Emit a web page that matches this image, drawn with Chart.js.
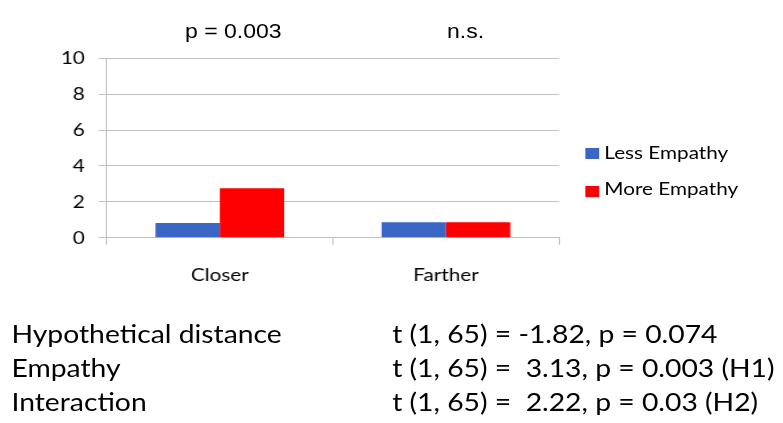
<!DOCTYPE html>
<html>
<head>
<meta charset="utf-8">
<script src="https://cdn.jsdelivr.net/npm/chart.js@4.4.1/dist/chart.umd.min.js"></script>
<style>
  html, body { margin:0; padding:0; background:#fff; width:783px; height:423px; overflow:hidden; }
  #stage { position:absolute; left:0; top:0; width:681px; height:423px; transform:scaleX(1.15); transform-origin:0 0; }
  #chartBox { position:absolute; left:0; top:0; width:681px; height:300px; }
  .ann { position:absolute; font-family:"Liberation Sans", Arial, sans-serif; font-size:20px; line-height:20px; color:#000; white-space:pre; }
  #legend { position:absolute; left:508.7px; top:0; width:172px; height:300px; font-family:Lato, sans-serif; font-size:18px; line-height:21.6px; color:#000; }
  .sw { position:absolute; left:0; width:12px; height:11px; }
  .lt { position:absolute; left:16.8px; top:0; white-space:pre; }
  #stats { position:absolute; left:0; top:0; width:681px; height:423px; font-family:Lato, sans-serif; font-size:24.6px; line-height:34px; color:#000; }
  .row { position:absolute; white-space:pre; }
</style>
</head>
<body>
<div id="stage">
  <div id="chartBox"><canvas id="c"></canvas></div>
  <div id="legend"></div>
  <div id="anns"></div>
  <div id="stats"></div>
</div>
<script>
// ---- data ----
const categories = ['Closer', 'Farther'];
const seriesNames = ['Less Empathy', 'More Empathy'];
const lessEmpathy = [0.82, 0.86];
const moreEmpathy = [2.75, 0.86];
const yTicks = [0, 2, 4, 6, 8, 10];
const annotations = ['p = 0.003', 'n.s.'];
const statLabels = ['Hypothetical distance', 'Empathy', 'Interaction'];
const statValues = ['t (1, 65) = -1.82, p = 0.074', 't (1, 65) =  3.13, p = 0.003 (H1)', 't (1, 65) =  2.22, p = 0.03 (H2)'];

// ---- styles ----
const colors = ['#3A67C5', '#FF0000'];
const gridColor = '#BFBFBF';

const chart = new Chart(document.getElementById('c'), {
  type: 'bar',
  data: {
    labels: categories,
    datasets: [
      { label: seriesNames[0], data: lessEmpathy, backgroundColor: colors[0], borderWidth: 0 },
      { label: seriesNames[1], data: moreEmpathy, backgroundColor: colors[1], borderWidth: 0 }
    ]
  },
  options: {
    responsive: true,
    maintainAspectRatio: false,
    animation: false,
    events: [],
    layout: { padding: { left: 0, right: 194.9, top: 58.3, bottom: 0 } },
    plugins: { legend: { display: false }, tooltip: { enabled: false } },
    datasets: { bar: { categoryPercentage: 0.569, barPercentage: 1.0 } },
    scales: {
      x: {
        offset: true,
        grid: { display: true, offset: true, drawOnChartArea: false, drawTicks: true, tickLength: 7, color: gridColor, lineWidth: 1 },
        border: { display: true, color: gridColor, width: 1 },
        ticks: { color: '#000', font: { family: 'Lato', size: 18 }, padding: 20, maxRotation: 0 },
        afterFit: (s) => { s.height = 62.3; }
      },
      y: {
        min: 0, max: 10,
        afterBuildTicks: (s) => { s.ticks = yTicks.map(v => ({ value: v })); },
        grid: { color: gridColor, lineWidth: 1, tickLength: 7, drawTicks: true },
        border: { display: true, color: gridColor, width: 1 },
        ticks: { color: '#000', font: { family: 'Lato', size: 18 }, padding: 12 },
        afterFit: (s) => { s.width = 92.8; }
      }
    }
  }
});

// legend
const legend = document.getElementById('legend');
const legendTops = [141.5, 178.2];
const swatchTops = [148.3, 186];
seriesNames.forEach((n, i) => {
  const sw = document.createElement('div');
  sw.className = 'sw'; sw.style.top = swatchTops[i] + 'px'; sw.style.background = colors[i];
  legend.appendChild(sw);
  const t = document.createElement('div');
  t.className = 'lt'; t.style.top = legendTops[i] + 'px'; t.textContent = n;
  legend.appendChild(t);
});

// annotations above groups
const annLeft = [160.9, 388.7];
const anns = document.getElementById('anns');
annotations.forEach((a, i) => {
  const d = document.createElement('div');
  d.className = 'ann'; d.style.left = annLeft[i] + 'px'; d.style.top = '20.8px'; d.textContent = a;
  anns.appendChild(d);
});

// stats text
const stats = document.getElementById('stats');
statLabels.forEach((l, i) => {
  const a = document.createElement('div');
  a.className = 'row'; a.style.left = '10px'; a.style.top = (317 + i * 34) + 'px'; a.textContent = l;
  stats.appendChild(a);
  const b = document.createElement('div');
  b.className = 'row'; b.style.left = '341px'; b.style.top = (317 + i * 34) + 'px'; b.textContent = statValues[i];
  stats.appendChild(b);
});
</script>
</body>
</html>
